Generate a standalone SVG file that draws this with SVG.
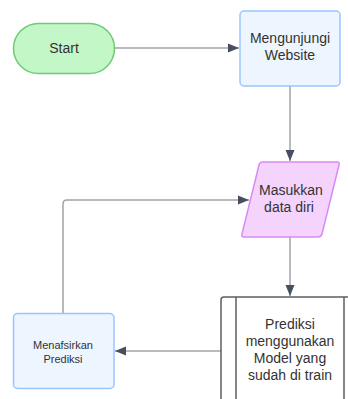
<svg xmlns="http://www.w3.org/2000/svg" width="348" height="399" viewBox="0 0 348 399">
<style>
text{font-family:"Liberation Sans",Arial,sans-serif;fill:#333333;text-anchor:middle}
.t14{font-size:14px}
.t11{font-size:11px}
.conn{fill:none;stroke:#a3a3a8;stroke-width:1.5}
</style>
<defs>
<marker id="arr" markerWidth="12" markerHeight="10" refX="11" refY="5" orient="auto" markerUnits="userSpaceOnUse">
<path d="M0,0.5 L11,5 L0,9.5 Z" fill="#474e5d"/>
</marker>
</defs>
<rect width="348" height="399" fill="#ffffff"/>
<g id="connectors">
<path class="conn" d="M114,48 H239" marker-end="url(#arr)"/>
<path class="conn" d="M290,86 V161" marker-end="url(#arr)"/>
<path class="conn" d="M63,313 V204 Q63,200 67,200 H249" marker-end="url(#arr)"/>
<path class="conn" d="M290,237 V296" marker-end="url(#arr)"/>
<path class="conn" d="M221,351 H115" marker-end="url(#arr)"/>
</g>
<g id="start">
<rect x="13.5" y="23.5" width="101" height="50" rx="25" fill="#c3f7c8" stroke="#6ccc73" stroke-width="1.5"/>
<text class="t14" x="64" y="53">Start</text>
</g>
<g id="mengunjungi">
<rect x="240" y="11" width="100" height="75" rx="4" fill="#edf5ff" stroke="#99c5ff" stroke-width="1.5"/>
<text class="t14" x="290" y="43">Mengunjungi</text>
<text class="t14" x="290" y="60">Website</text>
</g>
<g id="masukkan">
<path d="M262,162 H337 Q340,162 339,165 L322,234 Q321,237 318,237 H244 Q241,237 242,234 L259,165 Q260,162 262,162 Z" fill="#f4d4fd" stroke="#d98af5" stroke-width="1.5"/>
<text class="t14" x="291" y="195">Masukkan</text>
<text class="t14" x="289" y="212">data diri</text>
</g>
<g id="prediksi">
<rect x="221" y="297" width="138" height="110" rx="3" fill="#ffffff" stroke="#5e5e5e" stroke-width="1.5"/>
<line x1="236" y1="297" x2="236" y2="407" stroke="#5e5e5e" stroke-width="1.5"/>
<line x1="344" y1="297" x2="344" y2="407" stroke="#5e5e5e" stroke-width="1.5"/>
<text class="t14" x="290" y="329">Prediksi</text>
<text class="t14" x="290" y="346">menggunakan</text>
<text class="t14" x="290" y="363">Model yang</text>
<text class="t14" x="290" y="380">sudah di train</text>
</g>
<g id="menafsirkan">
<rect x="13.5" y="313.5" width="100.5" height="75" rx="4" fill="#edf5ff" stroke="#99c5ff" stroke-width="1.5"/>
<text class="t11" x="63" y="349">Menafsirkan</text>
<text class="t11" x="63" y="363">Prediksi</text>
</g>
</svg>
